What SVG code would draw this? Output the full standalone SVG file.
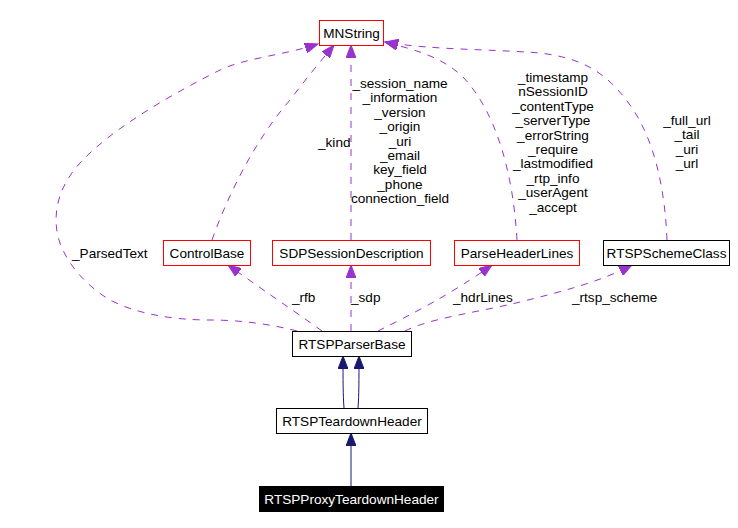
<svg xmlns="http://www.w3.org/2000/svg" width="738" height="528" viewBox="0 0 738 528">
<style>
text{font-family:"Liberation Sans",Arial,Helvetica,sans-serif;font-size:13.6px;fill:#000}
.n rect{fill:#fff;stroke:#000;stroke-width:1}
.n.red rect{stroke:#ff0000}
.n.sel rect{fill:#000}
.n.sel text{fill:#fff}
.n text{text-anchor:middle}
.u{fill:none;stroke:#9a32cd;stroke-width:1;stroke-dasharray:7,7;marker-end:url(#pa)}
.i{fill:none;stroke:#191970;stroke-width:1;marker-end:url(#na)}
.lbl{text-anchor:middle}
</style>
<defs>
<marker id="pa" markerUnits="userSpaceOnUse" markerWidth="14" markerHeight="10" refX="13" refY="5" orient="auto" viewBox="0 0 14 10">
<path d="M0,0 L13,5 L0,10 z" fill="#9a32cd" stroke="#9a32cd"/>
</marker>
<marker id="na" markerUnits="userSpaceOnUse" markerWidth="14" markerHeight="10" refX="13" refY="5" orient="auto" viewBox="0 0 14 10">
<path d="M0,0 L13,5 L0,10 z" fill="#191970" stroke="#191970"/>
</marker>
</defs>
<rect width="738" height="528" fill="#fff"/>
<g id="connectors">
<path class="u" d="M297,331 C270,324 240,320 210,320 C170,320 135,313 110,300 C85,285 65,262 58,237 C52,210 60,185 80,163 C110,130 170,95 220,70 C245,58 285,55 318,44"/>
<path class="u" d="M212,240 C228,195 255,140 290,100 C305,80 320,62 334,45"/>
<path class="u" d="M351,240 L351,45"/>
<path class="u" d="M517,240 C513,170 495,110 462,76 C440,56 415,50 385,42"/>
<path class="u" d="M667,240 C665,190 655,140 630,105 C605,70 580,58 540,53 C490,49 430,50 385,42"/>
<path class="u" d="M322,331 C300,315 270,295 228,265"/>
<path class="u" d="M351,331 L351,265"/>
<path class="u" d="M378,331 C410,315 450,295 492,265"/>
<path class="u" d="M405,331 C430,318 480,312 520,302 C560,292 600,282 632,265"/>
<path class="i" d="M344,408 C343,395 343,380 343,356"/>
<path class="i" d="M358,408 C359,395 359,380 359,356"/>
<path class="i" d="M351,486 L351,433"/>
</g>
<g id="edge-labels">
<text x="72" y="258">_ParsedText</text>
<text x="318" y="147">_kind</text>
<text class="lbl" x="400" y="88">_session_name</text>
<text class="lbl" x="400" y="102.4">_information</text>
<text class="lbl" x="400" y="116.8">_version</text>
<text class="lbl" x="400" y="131.2">_origin</text>
<text class="lbl" x="400" y="145.6">_uri</text>
<text class="lbl" x="400" y="160">_email</text>
<text class="lbl" x="400" y="174.4">key_field</text>
<text class="lbl" x="400" y="188.8">_phone</text>
<text class="lbl" x="400" y="203.2">connection_field</text>
<text class="lbl" x="553" y="82">_timestamp</text>
<text class="lbl" x="553" y="96.4">nSessionID</text>
<text class="lbl" x="553" y="110.8">_contentType</text>
<text class="lbl" x="553" y="125.2">_serverType</text>
<text class="lbl" x="553" y="139.6">_errorString</text>
<text class="lbl" x="553" y="154">_require</text>
<text class="lbl" x="553" y="168.4">_lastmodified</text>
<text class="lbl" x="553" y="182.8">_rtp_info</text>
<text class="lbl" x="553" y="197.2">_userAgent</text>
<text class="lbl" x="553" y="211.6">_accept</text>
<text class="lbl" x="687" y="125">_full_url</text>
<text class="lbl" x="687" y="139.4">_tail</text>
<text class="lbl" x="687" y="153.8">_uri</text>
<text class="lbl" x="687" y="168.2">_url</text>
<text x="292" y="302">_rfb</text>
<text x="351" y="302">_sdp</text>
<text x="453" y="302">_hdrLines</text>
<text x="572" y="302">_rtsp_scheme</text>
</g>
<g id="MNString" class="n red"><rect x="319.5" y="20.5" width="64" height="25"/><text x="351.5" y="38">MNString</text></g>
<g id="ControlBase" class="n red"><rect x="163.5" y="240.5" width="87" height="25"/><text x="207" y="258">ControlBase</text></g>
<g id="SDPSessionDescription" class="n red"><rect x="272.5" y="240.5" width="158" height="25"/><text x="351.5" y="258">SDPSessionDescription</text></g>
<g id="ParseHeaderLines" class="n red"><rect x="454.5" y="240.5" width="125" height="25"/><text x="517" y="258">ParseHeaderLines</text></g>
<g id="RTSPSchemeClass" class="n"><rect x="603.5" y="240.5" width="126" height="25"/><text x="666.5" y="258">RTSPSchemeClass</text></g>
<g id="RTSPParserBase" class="n"><rect x="292.5" y="331.5" width="119" height="25"/><text x="352" y="349">RTSPParserBase</text></g>
<g id="RTSPTeardownHeader" class="n"><rect x="276.5" y="408.5" width="151" height="25"/><text x="352" y="426">RTSPTeardownHeader</text></g>
<g id="RTSPProxyTeardownHeader" class="n sel"><rect x="259.5" y="486.5" width="184" height="25"/><text x="351.5" y="504">RTSPProxyTeardownHeader</text></g>
</svg>
